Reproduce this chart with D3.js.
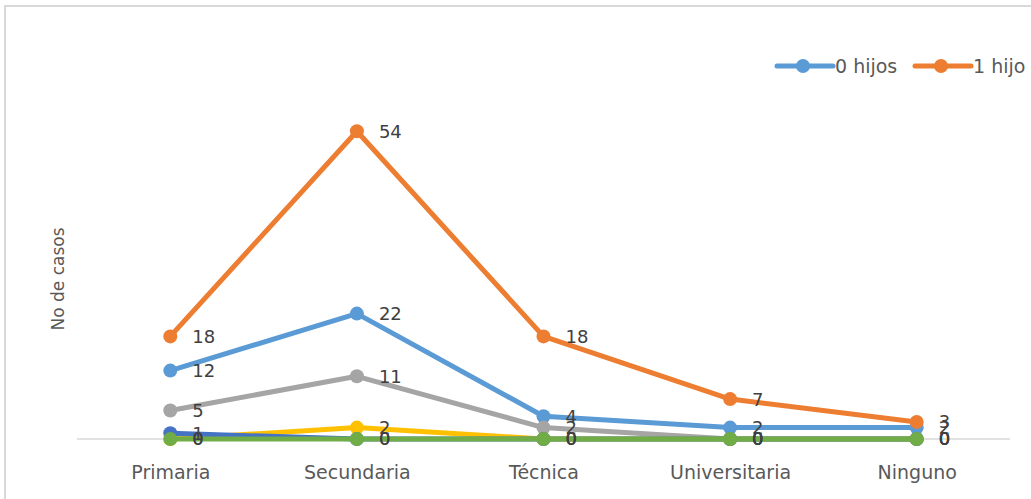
<!DOCTYPE html>
<html>
<head>
<meta charset="utf-8">
<script src="https://cdn.jsdelivr.net/npm/d3@7"></script>
<style>
  html, body { margin: 0; padding: 0; background: #fff; }
  svg { display: block; }
  text { font-family: "DejaVu Sans", sans-serif; }
</style>
</head>
<body>
<svg id="chart" width="1031" height="499"></svg>
<script>
const categories = ["Primaria", "Secundaria", "Técnica", "Universitaria", "Ninguno"];
const seriesNames = ["0 hijos", "1 hijo", "2 hijos", "3 hijos", "4 hijos", "5 hijos"];
const hijos0 = [12, 22, 4, 2, 2];
const hijos1 = [18, 54, 18, 7, 3];
const hijos2 = [5, 11, 2, 0, 0];
const hijos3 = [0, 2, 0, 0, 0];
const hijos4 = [1, 0, 0, 0, 0];
const hijos5 = [0, 0, 0, 0, 0];
const seriesColors = ["#5B9BD5", "#ED7D31", "#A5A5A5", "#FFC000", "#4472C4", "#70AD47"];
const legendShown = ["0 hijos", "1 hijo"];
const yAxisTitle = "No de casos";

const series = [hijos0, hijos1, hijos2, hijos3, hijos4, hijos5].map((vals, i) => ({
  name: seriesNames[i], color: seriesColors[i], values: vals
}));

const svg = d3.select("#chart");

// frame
svg.append("path")
  .attr("d", "M5,499 L5,6 L1031,6")
  .attr("fill", "none").attr("stroke", "#d9d9d9").attr("stroke-width", 2);

const x = d3.scalePoint().domain(categories).range([77, 1010]).padding(0.5);
const y = d3.scaleLinear().domain([0, 60]).range([439, 97]);

// category axis
const xAxis = d3.axisBottom(x).tickSize(0).tickPadding(27);
const gx = svg.append("g").attr("transform", "translate(0,439)").call(xAxis);
gx.select(".domain").attr("stroke", "#d9d9d9").attr("stroke-width", 1.5)
  .attr("d", "M77,0H1010");
gx.selectAll("text").attr("fill", "#595959").style("font-size", "19px")
  .style("font-family", "'DejaVu Sans', sans-serif");

// y title
svg.append("text")
  .attr("transform", "translate(64,279) rotate(-90)")
  .attr("text-anchor", "middle")
  .attr("fill", "#595959")
  .style("font-size", "17px")
  .text(yAxisTitle);

const line = d3.line().x((d, i) => x(categories[i])).y(d => y(d));

const gSeries = svg.append("g");
series.forEach(s => {
  const g = gSeries.append("g");
  g.append("path").datum(s.values)
    .attr("d", line)
    .attr("fill", "none").attr("stroke", s.color)
    .attr("stroke-width", 5).attr("stroke-linejoin", "round").attr("stroke-linecap", "round");
  g.selectAll("circle").data(s.values).join("circle")
    .attr("cx", (d, i) => x(categories[i]))
    .attr("cy", d => y(d))
    .attr("r", 7)
    .attr("fill", s.color);
});

// data labels
const gLabels = svg.append("g");
series.forEach(s => {
  gLabels.selectAll(null).data(s.values).join("text")
    .attr("x", (d, i) => x(categories[i]) + 22)
    .attr("y", d => y(d))
    .attr("dy", "0.36em")
    .attr("fill", "#404040")
    .style("font-size", "18px")
    .text(d => d);
});

// legend
const legendData = series.filter(s => legendShown.includes(s.name));
const legendX = [777, 915];
const lg = svg.append("g").attr("transform", "translate(0,66)");
legendData.forEach((s, i) => {
  const g = lg.append("g").attr("transform", `translate(${legendX[i]},0)`);
  g.append("line").attr("x1", 0).attr("x2", 56).attr("y1", 0).attr("y2", 0)
    .attr("stroke", s.color).attr("stroke-width", 5).attr("stroke-linecap", "round");
  g.append("circle").attr("cx", 26).attr("cy", 0).attr("r", 7).attr("fill", s.color);
  g.append("text").attr("x", 58).attr("y", 0).attr("dy", "0.36em")
    .attr("fill", "#595959").style("font-size", "19px").text(s.name);
});
</script>
</body>
</html>
